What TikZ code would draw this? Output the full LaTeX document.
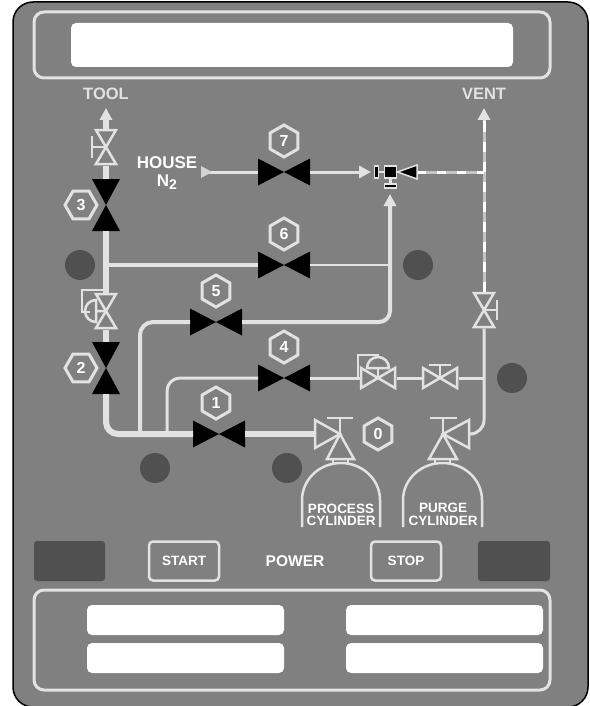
\documentclass[tikz,border=0pt]{standalone}
\usepackage{fontspec}
\setmainfont{Liberation Sans}
\usetikzlibrary{arrows.meta,shapes.geometric}
\definecolor{panel}{RGB}{128,128,128}
\definecolor{dark}{RGB}{80,80,80}
\definecolor{pale}{RGB}{226,226,226}
\definecolor{dull}{RGB}{196,196,196}
\tikzset{
frame/.style={draw=pale,line width=3pt,rounded corners=10pt},
slot/.style={fill=white,rounded corners=5pt},
lamp/.style={fill=dark,rounded corners=3pt},
hole/.style={circle,fill=dark,minimum size=30pt,inner sep=0pt},
hexv/.style={regular polygon,regular polygon sides=6,shape border rotate=30,draw=pale,line width=3pt,
minimum size=32pt,inner sep=0pt,text=white,font=\fontsize{16}{18}\bfseries},
hexh/.style={hexv,shape border rotate=0},
lab/.style={text=white,font=\fontsize{17}{18}\bfseries,inner sep=0pt},
cyl/.style={text=white,font=\fontsize{13.5}{14}\bfseries,inner sep=0pt},
pipe/.style={draw=pale,line width=#1},
pipe/.default=3pt,
sym/.style={draw=pale,line width=2.5pt},
bowh/.style={inner sep=0pt,outer sep=0pt,minimum width=52pt,minimum height=27pt,
path picture={\fill[black] (path picture bounding box.south west)--(path picture bounding box.north east)
--(path picture bounding box.south east)--(path picture bounding box.north west)--cycle;}},
bowv/.style={inner sep=0pt,outer sep=0pt,minimum width=28pt,minimum height=52pt,
path picture={\fill[black] (path picture bounding box.south west)--(path picture bounding box.north east)
--(path picture bounding box.north west)--(path picture bounding box.south east)--cycle;}},
openv/.style={inner sep=0pt,outer sep=0pt,minimum width=24pt,minimum height=37pt,
path picture={\draw[sym,shift={(path picture bounding box.center)}] (-10,-17)--(10,17)--(-10,17)--(10,-17)--cycle;}},
openh/.style={inner sep=0pt,outer sep=0pt,minimum width=37pt,minimum height=24pt,
path picture={\draw[sym,shift={(path picture bounding box.center)}] (-17,-10)--(17,10)--(17,-10)--(-17,10)--cycle;}},
tipup/.style={-{Triangle[width=12pt,length=12pt]}}
}
\begin{document}
\begin{tikzpicture}[x=1pt,y=-1pt]
\useasboundingbox (0,0) rectangle (589,706);
\draw[black,fill=panel,line width=1.5pt,rounded corners=20pt] (13,2) rectangle (588,707);
\draw[frame] (34,12) rectangle (550,78);
\fill[slot] (71,23) rectangle (513,67);
\draw[frame] (34,590) rectangle (550,690);
\fill[slot] (87,605) rectangle (284,635);
\fill[slot] (87,643) rectangle (284,673);
\fill[slot] (346,605) rectangle (543,635);
\fill[slot] (346,643) rectangle (543,673);
\fill[lamp] (34,541) rectangle (105,581);
\fill[lamp] (478,541) rectangle (550,581);
\node[draw=pale,line width=2.5pt,rounded corners=4pt,minimum width=70pt,minimum height=39pt,inner sep=0pt,text=white,
font=\fontsize{13.5}{14}\bfseries] (start) at (184,561) {START};
\node[draw=pale,line width=2.5pt,rounded corners=4pt,minimum width=70pt,minimum height=39pt,inner sep=0pt,text=white,
font=\fontsize{13.5}{14}\bfseries] (stop) at (406,561) {STOP};
\node[lab,font=\fontsize{15.5}{18}\bfseries] (power) at (295,561) {POWER};
\node[hole] (h1) at (80,265) {};
\node[hole] (h2) at (418,265) {};
\node[hole] (h3) at (512,378) {};
\node[hole] (h4) at (155,468) {};
\node[hole] (h5) at (287,468) {};
\node[lab,text=pale,font=\fontsize{16.5}{18}\bfseries] (tool) at (106,94) {TOOL};
\node[lab,text=pale,font=\fontsize{16.5}{18}\bfseries] (vent) at (484,94) {VENT};
\node[lab] (house) at (167,163) {HOUSE};
\node[lab] (nn) at (167,182) {N\raisebox{-3pt}{\fontsize{14}{14}\bfseries 2}};
\coordinate (tooltip) at (106,108);
\coordinate (venttip) at (484,108);
\coordinate (hin) at (201,172);
\coordinate (jt) at (106,265);
\coordinate (j5) at (140,435);
\coordinate (j4) at (167,435);
\coordinate (j6) at (390,265);
\coordinate (jv) at (484,172);
\coordinate (jp) at (484,378);
\coordinate (jr) at (417,172);
\coordinate (jl) at (371,172);
\coordinate (ju) at (390,194);
\coordinate (pin) at (315,434);
\coordinate (pout) at (469,434);
\node[openv] (vtop) at (106,147) {};
\node[bowv] (v3) at (106,205) {};
\node[openv] (vreg) at (106,311) {};
\node[bowv] (v2) at (106,368) {};
\node[bowh] (v7) at (284,172) {};
\node[bowh] (v6) at (284,265) {};
\node[bowh] (v5) at (216,322) {};
\node[bowh] (v4) at (284,378) {};
\node[bowh] (v1) at (219,434) {};
\node[openh] (vr4) at (378,378) {};
\node[openh] (vm4) at (440,378) {};
\node[openv] (vvent) at (484,310) {};
\node[hexv] (n7) at (284,141) {7};
\node[hexv] (n6) at (284,234) {6};
\node[hexv] (n5) at (216,291) {5};
\node[hexv] (n4) at (284,347) {4};
\node[hexv] (n1) at (216,403) {1};
\node[hexv] (n0) at (378,434) {0};
\node[hexh] (n3) at (81,205) {3};
\node[hexh] (n2) at (81,368) {2};
\draw[pipe=6pt,tipup] (vtop.north)--(tooltip);
\draw[pipe=6pt] (v3.north)--(vtop.south);
\draw[pipe=6pt] (v3.south)--(vreg.north);
\draw[pipe=6pt] (vreg.south)--(v2.north);
\draw[pipe=6pt,rounded corners=12pt] (v2.south)|-(v1.west);
\draw[pipe=6pt] (v1.east)--(pin);
\draw[pipe=4pt] (jt)--(v6.west);
\draw[pipe=2pt] (v6.east)--(j6);
\draw[pipe=4pt,rounded corners=13pt] (v5.west)-|(j5);
\draw[pipe=4pt,rounded corners=11pt,tipup] (v5.east)-|(ju);
\draw[pipe=3pt,rounded corners=13pt] (v4.west)-|(j4);
\draw[pipe] (v4.east)--(vr4.west);
\draw[pipe] (vr4.east)--(vm4.west);
\draw[pipe] (vm4.east)--(jp);
\draw[pipe,rounded corners=14pt] (pout)-|(vvent.south);
\draw[pipe] (hin)--(v7.west);
\fill[pale!85!panel] (201,166)--(212,172)--(201,178)--cycle;
\draw[pipe=3pt,-{Triangle[width=12pt,length=12pt]}] (v7.east)--(jl);
\draw[pipe,draw=dull,-{Triangle[width=12pt,length=12pt]},pale] (vvent.north)--(venttip);
\draw[line width=3pt,dull] (vvent.north)--(484,125);
\draw[line width=3pt,white,dash pattern=on 10pt off 10pt] (vvent.north)--(484,120);
\draw[line width=3pt,dull] (jr)--(jv);
\draw[line width=3pt,white,dash pattern=on 9pt off 11pt] (jr)--(jv);
\draw[sym] (vtop.center)--++(-14,0) (92,136)--(92,158);
\draw[sym] (vvent.center)--++(13,0) (497,300)--(497,320);
\draw[sym] (vreg.center)--(96,311) (96,300) arc[start angle=90,end angle=270,radius=11pt]--cycle;
\draw[sym] (106,290)--(82,290)--(82,312)--(90,312);
\draw[sym] (vm4.center)--++(0,-13) (429,365)--(451,365);
\draw[sym] (vr4.center)--++(0,-10);
\draw[sym] (367,368) arc[start angle=180,end angle=0,radius=11pt]--cycle;
\draw[sym] (358,378)--(358,355)--(378,355)--(378,358);
\node[draw=pale,fill=black,line width=1.5pt,minimum size=12pt,inner sep=0pt] (jsq) at (390.5,172) {};
\node[draw=pale,fill=black,line width=1.5pt,minimum width=4pt,minimum height=12pt,inner sep=0pt] (jbl) at (376.5,172) {};
\node[draw=pale,fill=black,line width=1.5pt,minimum width=12pt,minimum height=4pt,inner sep=0pt] (jbb) at (390.5,186) {};
\draw[pipe=2.5pt] (jbl)--(jsq);
\draw[pipe=2.5pt] (jsq)--(jbb);
\draw[draw=pale,fill=black,line width=1.5pt] (397.5,172)--(jr|-165,165)--(jr|-179,179)--cycle;
\draw[sym] (pin|-420,420)--(315,448)--(340,434)--cycle;
\draw[sym] (340,434)--(327,459)--(354,459)--cycle;
\draw[sym] (340,434)--(340,418) (327,418)--(353,418);
\draw[sym] (333,459)--(333,464) (348,459)--(348,464);
\draw[sym] (302,527)--(302,500) arc[start angle=180,end angle=0,x radius=39pt,y radius=37pt]--(380,527);
\node[cyl] (pc1) at (341,509) {PROCESS};
\node[cyl] (pc2) at (341,521) {CYLINDER};
\draw[sym] (pout|-420,420)--(469,448)--(443,434)--cycle;
\draw[sym] (443,434)--(429,459)--(457,459)--cycle;
\draw[sym] (443,434)--(443,418) (430,418)--(457,418);
\draw[sym] (435,459)--(435,464) (450,459)--(450,464);
\draw[sym] (403,527)--(403,500) arc[start angle=180,end angle=0,x radius=39.5pt,y radius=37pt]--(482,527);
\node[cyl] (pg1) at (443,508) {PURGE};
\node[cyl] (pg2) at (443,521) {CYLINDER};
\end{tikzpicture}
\end{document}
